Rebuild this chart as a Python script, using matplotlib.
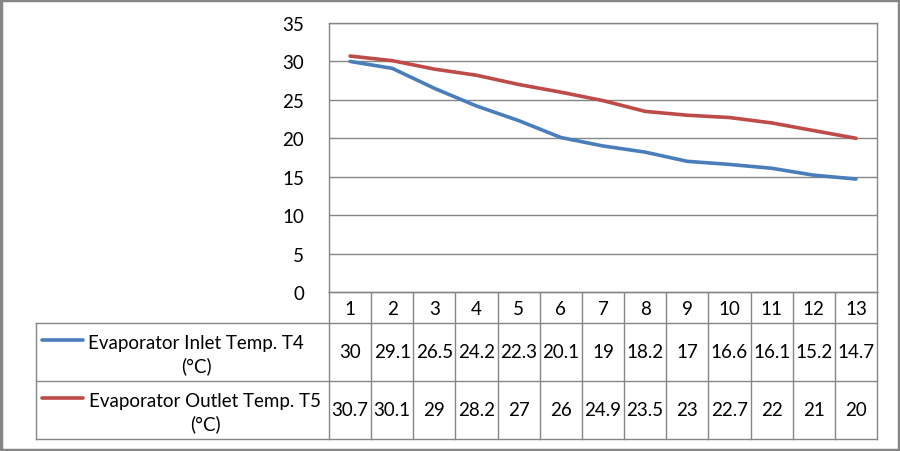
import matplotlib.pyplot as plt
from matplotlib.patches import Rectangle

plt.rcParams['font.family'] = ['Lato', 'DejaVu Sans']

points = list(range(1, 14))
inlet_t4 = [30, 29.1, 26.5, 24.2, 22.3, 20.1, 19, 18.2, 17, 16.6, 16.1, 15.2, 14.7]
outlet_t5 = [30.7, 30.1, 29, 28.2, 27, 26, 24.9, 23.5, 23, 22.7, 22, 21, 20]
series_names = ['Evaporator Inlet Temp. T4\n(°C)', 'Evaporator Outlet Temp. T5\n(°C)']
colors = ['#4a7ebb', '#be4b48']
grid_col = '#868686'
fs = 13.5

W, H = 900, 452
fig = plt.figure(figsize=(9, 4.52), dpi=100)

# plot area in pixels
left, right, top, bottom = 329, 877, 24, 293
ax = fig.add_axes([left / W, 1 - bottom / H, (right - left) / W, (bottom - top) / H])
ax.plot(points, inlet_t4, color=colors[0], lw=2.6, solid_capstyle='round')
ax.plot(points, outlet_t5, color=colors[1], lw=2.6, solid_capstyle='round')
ax.set_xlim(0.5, 13.5)
ax.set_ylim(0, 35)
ax.set_yticks(range(0, 36, 5))
ax.set_xticks([])
ax.yaxis.grid(True, color=grid_col, lw=1)
ax.set_axisbelow(True)
for s in ax.spines.values():
    s.set_color(grid_col)
    s.set_linewidth(1)
ax.tick_params(axis='y', length=0, pad=18, labelsize=fs)

# overlay for the data table, pixel coordinates
ov = fig.add_axes([0, 0, 1, 1], zorder=-1)
ov.set_xlim(0, W)
ov.set_ylim(H, 0)
ov.axis('off')

col_w = (right - left) / len(points)
row_y = [bottom, 324, 382, 440]
tab_left = 36
kw = dict(color=grid_col, lw=1)

# horizontal lines
ov.plot([left, right], [row_y[0]] * 2, **kw)
for y in row_y[1:]:
    ov.plot([tab_left, right], [y, y], **kw)
ov.plot([tab_left, tab_left], [row_y[1], row_y[3]], **kw)
for i in range(len(points) + 1):
    x = left + i * col_w
    ov.plot([x, x], [row_y[0], row_y[3]], **kw)

# header numbers
for i, p in enumerate(points):
    ov.text(left + (i + 0.5) * col_w, (row_y[0] + row_y[1]) / 2 + 1, str(p),
            ha='center', va='center', fontsize=fs)

# rows
for r, (vals, name, c) in enumerate(zip([inlet_t4, outlet_t5], series_names, colors)):
    y0, y1 = row_y[r + 1], row_y[r + 2]
    ym = (y0 + y1) / 2
    for i, v in enumerate(vals):
        ov.text(left + (i + 0.5) * col_w, ym, f'{v:g}', ha='center', va='center', fontsize=fs)
    ov.text(196 if r == 0 else 205, ym + 2, name, ha='center', va='center',
            fontsize=fs, linespacing=1.3)
    ov.plot([42, 83], [ym - 12, ym - 12], color=c, lw=2.6, solid_capstyle='round')

# outer chart border
fig.patches.append(Rectangle((0.0015, 0.003), 0.997, 0.994, transform=fig.transFigure,
                             fill=False, edgecolor=grid_col, lw=2.5))

fig.savefig('out.png', dpi=100)
